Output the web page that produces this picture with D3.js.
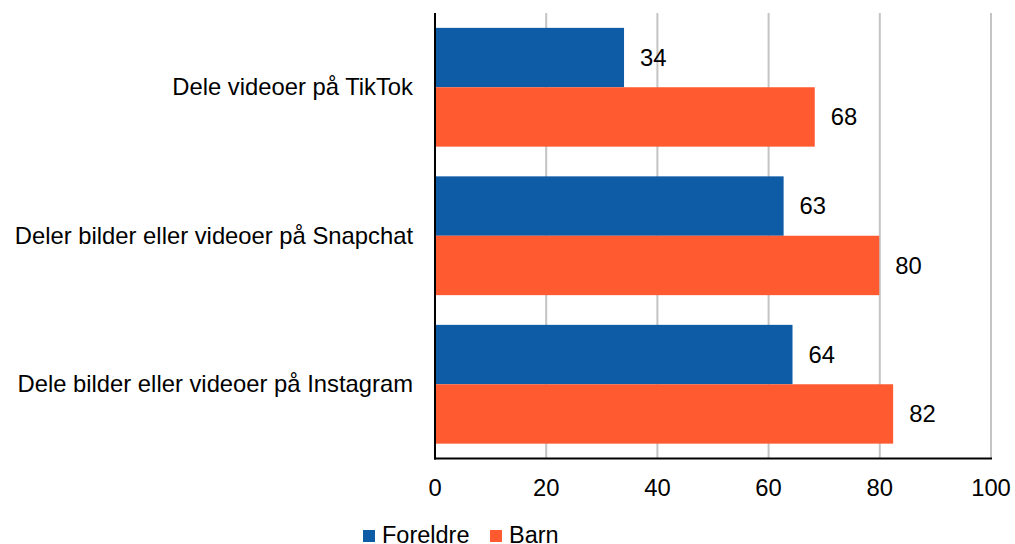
<!DOCTYPE html>
<html>
<head>
<meta charset="utf-8">
<script src="https://cdn.jsdelivr.net/npm/d3@7"></script>
<style>
  html, body { margin: 0; padding: 0; background: #fff; }
  svg { display: block; font-family: "Liberation Sans", Arial, sans-serif; }
</style>
</head>
<body>
<svg id="chart" width="1015" height="544"></svg>
<script>
const categories = ["Dele videoer på TikTok", "Deler bilder eller videoer på Snapchat", "Dele bilder eller videoer på Instagram"];
const seriesNames = ["Foreldre", "Barn"];
const foreldre = [34.0, 62.7, 64.3];
const barn = [68.3, 79.9, 82.4];
const xTicks = [0, 20, 40, 60, 80, 100];
const colors = ["#0e5ca6", "#ff5a30"];

(function () {
const svg = d3.select("#chart");
const pLeft = 435, pRight = 991, pTop = 13, pBottom = 458.5;
const fs = 23.8;

const x = d3.scaleLinear().domain([0, 100]).range([pLeft, pRight]);
const y = d3.scaleBand().domain(categories).range([pTop, pBottom]).paddingInner(0.2).paddingOuter(0.1);
const ySub = d3.scaleBand().domain(seriesNames).range([0, y.bandwidth()]);

// gridlines
svg.append("g").selectAll("line").data(xTicks.filter(d => d > 0)).join("line")
  .attr("x1", d => x(d)).attr("x2", d => x(d))
  .attr("y1", pTop).attr("y2", pBottom)
  .attr("stroke", "#c4c4c4").attr("stroke-width", 2);

const data = categories.map((c, i) => ({ cat: c, vals: [foreldre[i], barn[i]] }));

const groups = svg.append("g").selectAll("g").data(data).join("g")
  .attr("transform", d => `translate(0,${y(d.cat)})`);

groups.selectAll("rect").data(d => d.vals.map((v, j) => ({ v, s: seriesNames[j], j }))).join("rect")
  .attr("x", x(0))
  .attr("y", d => ySub(d.s))
  .attr("width", d => x(d.v) - x(0))
  .attr("height", ySub.bandwidth())
  .attr("fill", d => colors[d.j]);

groups.selectAll("text.val").data(d => d.vals.map((v, j) => ({ v, s: seriesNames[j] }))).join("text")
  .attr("class", "val")
  .attr("x", d => x(d.v) + 16)
  .attr("y", d => ySub(d.s) + ySub.bandwidth() / 2)
  .attr("dy", "0.35em")
  .attr("font-size", fs)
  .attr("fill", "#000")
  .text(d => d3.format(".0f")(d.v));

// category labels
svg.append("g").selectAll("text").data(categories).join("text")
  .attr("x", 413)
  .attr("y", d => y(d) + y.bandwidth() / 2 - 0.5)
  .attr("dy", "0.35em")
  .attr("text-anchor", "end")
  .attr("font-size", fs)
  .attr("fill", "#000")
  .text(d => d);

// axes
svg.append("line").attr("x1", pLeft).attr("x2", pLeft).attr("y1", pTop).attr("y2", pBottom + 1)
  .attr("stroke", "#000").attr("stroke-width", 2);
svg.append("line").attr("x1", pLeft - 1).attr("x2", pRight + 1).attr("y1", pBottom).attr("y2", pBottom)
  .attr("stroke", "#000").attr("stroke-width", 2);

svg.append("g").selectAll("text").data(xTicks).join("text")
  .attr("x", d => x(d))
  .attr("y", 496)
  .attr("text-anchor", "middle")
  .attr("font-size", fs)
  .attr("fill", "#000")
  .text(d => d);

// legend
const legendItems = [{ name: seriesNames[0], x: 363 }, { name: seriesNames[1], x: 490 }];
const lg = svg.append("g").selectAll("g").data(legendItems).join("g")
  .attr("transform", d => `translate(${d.x},0)`);
lg.append("rect").attr("x", 0).attr("y", 530).attr("width", 12).attr("height", 12)
  .attr("fill", (d, i) => colors[i]);
lg.append("text").attr("x", 19).attr("y", 543).attr("font-size", 23.5).attr("fill", "#000")
  .text(d => d.name);
})();
</script>
</body>
</html>
